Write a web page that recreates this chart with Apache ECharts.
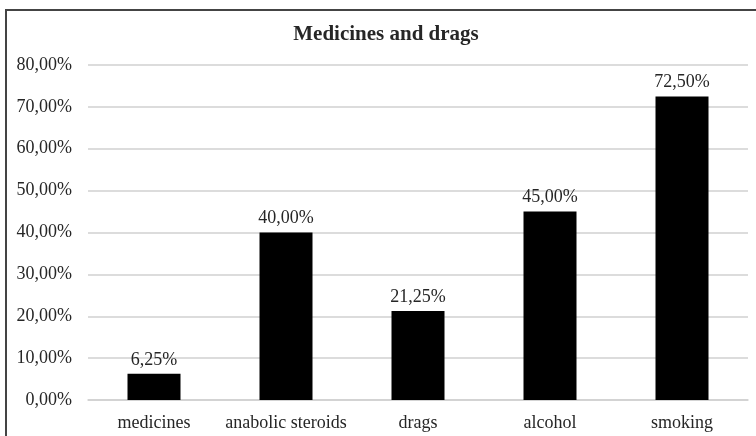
<!DOCTYPE html>
<html>
<head>
<meta charset="utf-8">
<script src="https://cdn.jsdelivr.net/npm/echarts@6/dist/echarts.min.js"></script>
<style>
  html, body { margin: 0; padding: 0; background: #fff; }
  #chart { width: 756px; height: 436px; }
</style>
</head>
<body>
<div id="chart"></div>
<script>
// Share of respondents by substance (percent)
const categories = ['medicines', 'anabolic steroids', 'drags', 'alcohol', 'smoking'];
const shares = [6.25, 40.00, 21.25, 45.00, 72.50];
const yTicks = { min: 0, max: 80, step: 10 };

const FONT = '"Liberation Serif", "Times New Roman", serif';
const pct = v => v.toFixed(2).replace('.', ',') + '%';

const chart = echarts.init(document.getElementById('chart'), null, { renderer: 'canvas' });
chart.setOption({
  backgroundColor: '#fff',
  animation: false,
  title: {
    text: 'Medicines and drags',
    left: 381,
    textAlign: 'center',
    top: 19,
    textStyle: { fontFamily: FONT, fontSize: 21, fontWeight: 'bold', color: '#262626' }
  },
  graphic: [{
    type: 'rect',
    shape: { x: 6, y: 10, width: 770, height: 450 },
    style: { fill: 'none', stroke: '#444', lineWidth: 2 },
    silent: true
  }],
  grid: { left: 88, right: 8, top: 65, bottom: 36, containLabel: false },
  xAxis: {
    type: 'category',
    data: categories,
    axisLine: { show: true, lineStyle: { color: '#d0d0d0', width: 1.5 } },
    axisTick: { show: false },
    axisLabel: { interval: 0, fontFamily: FONT, fontSize: 18, color: '#262626', margin: 14 }
  },
  yAxis: {
    type: 'value',
    min: yTicks.min,
    max: yTicks.max,
    interval: yTicks.step,
    axisLine: { show: false },
    axisTick: { show: false },
    splitLine: { lineStyle: { color: '#d0d0d0', width: 1.5 } },
    axisLabel: { fontFamily: FONT, fontSize: 18, color: '#262626', margin: 16, formatter: v => pct(v) }
  },
  series: [{
    type: 'bar',
    data: shares,
    barWidth: 53,
    itemStyle: { color: '#000' },
    label: {
      show: true,
      position: 'top',
      distance: 5,
      fontFamily: FONT,
      fontSize: 18,
      color: '#262626',
      formatter: p => pct(p.value)
    }
  }]
});
</script>
</body>
</html>
